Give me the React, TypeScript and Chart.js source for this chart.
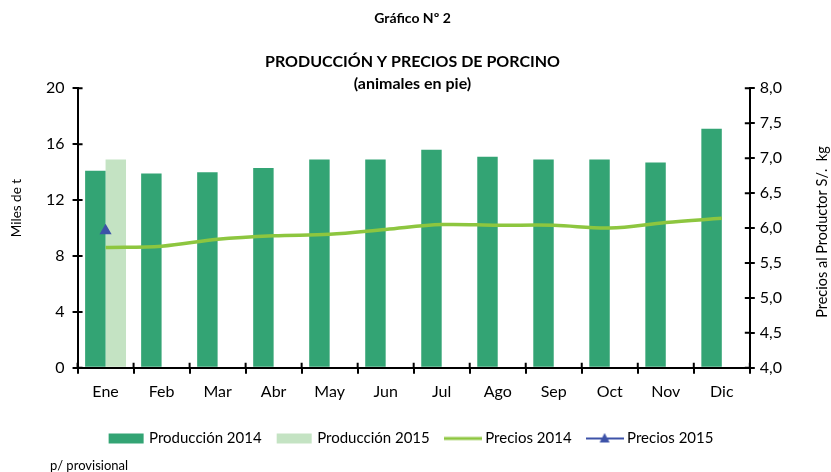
import React, { useEffect, useRef } from 'react';
import { Chart, registerables } from 'chart.js';

Chart.register(...registerables);

const months = ['Ene', 'Feb', 'Mar', 'Abr', 'May', 'Jun', 'Jul', 'Ago', 'Sep', 'Oct', 'Nov', 'Dic'];
const produccion2014 = [14.1, 13.9, 14.0, 14.3, 14.9, 14.9, 15.6, 15.1, 14.9, 14.9, 14.7, 17.1];
const produccion2015 = [14.9, null, null, null, null, null, null, null, null, null, null, null];
const precios2014 = [5.72, 5.74, 5.84, 5.89, 5.91, 5.98, 6.05, 6.04, 6.04, 6.0, 6.08, 6.14];
const precios2015 = [5.96, null, null, null, null, null, null, null, null, null, null, null];
const leftTicks = [0, 4, 8, 12, 16, 20];
const rightTicks = [4.0, 4.5, 5.0, 5.5, 6.0, 6.5, 7.0, 7.5, 8.0];
const legendLabels = ['Producción 2014', 'Producción 2015', 'Precios 2014', 'Precios 2015'];
const leftTitle = 'Miles de t';
const rightTitle = 'Precios al Productor S/.  kg';

const C2014 = '#33a474';
const C2015 = '#c4e3c3';
const CLINE = '#8dc63f';
const CBLUE = '#3d52a8';
const FONT = 'Lato, "Open Sans", sans-serif';

function makeIcon(kind: string): HTMLCanvasElement {
  const c = document.createElement('canvas');
  c.width = 38;
  c.height = 12;
  const ctx = c.getContext('2d')!;
  if (kind === 'bar14' || kind === 'bar15') {
    ctx.fillStyle = kind === 'bar14' ? C2014 : C2015;
    ctx.fillRect(1, 1, 35, 10);
  } else if (kind === 'line') {
    ctx.fillStyle = CLINE;
    ctx.fillRect(0, 4.5, 38, 3);
  } else {
    ctx.fillStyle = CBLUE;
    ctx.fillRect(0, 5, 38, 2);
    ctx.beginPath();
    ctx.moveTo(19, 0.5);
    ctx.lineTo(24, 10);
    ctx.lineTo(14, 10);
    ctx.closePath();
    ctx.fill();
  }
  return c;
}

const crossTicks = {
  id: 'crossTicks',
  afterDraw(chart: any) {
    const ctx = chart.ctx;
    const { x, y, y1 } = chart.scales;
    ctx.save();
    ctx.strokeStyle = '#000';
    ctx.lineWidth = 2;
    ctx.beginPath();
    y.ticks.forEach((_t: any, i: number) => {
      const py = y.getPixelForTick(i);
      ctx.moveTo(y.right, py);
      ctx.lineTo(y.right + 5, py);
    });
    y1.ticks.forEach((_t: any, i: number) => {
      const py = y1.getPixelForTick(i);
      ctx.moveTo(y1.left - 5, py);
      ctx.lineTo(y1.left, py);
    });
    for (let i = 0; i <= x.ticks.length; i++) {
      const px = x.getPixelForValue(i - 0.5);
      ctx.moveTo(px, x.top - 5);
      ctx.lineTo(px, x.top);
    }
    ctx.stroke();
    // axis titles, both reading bottom-to-top
    const ca = chart.chartArea;
    const mid = (ca.top + ca.bottom) / 2;
    ctx.fillStyle = '#000';
    ctx.textAlign = 'center';
    ctx.textBaseline = 'middle';
    ctx.save();
    ctx.font = '13.5px ' + FONT;
    ctx.translate(17, mid - 20);
    ctx.rotate(-Math.PI / 2);
    ctx.fillText(leftTitle, 0, 0);
    ctx.restore();
    ctx.save();
    ctx.font = '14.5px ' + FONT;
    ctx.translate(chart.width - 9, mid + 4);
    ctx.rotate(-Math.PI / 2);
    ctx.fillText(rightTitle, 0, 0);
    ctx.restore();
    ctx.restore();
  },
};

export default function App() {
  const ref = useRef<HTMLCanvasElement>(null);
  useEffect(() => {
    const icons = [makeIcon('bar14'), makeIcon('bar15'), makeIcon('line'), makeIcon('tri')];
    const chart = new Chart(ref.current!, {
      type: 'bar',
      data: {
        labels: months,
        datasets: [
          { type: 'bar', label: legendLabels[0], data: produccion2014, backgroundColor: C2014, yAxisID: 'y', order: 2, barPercentage: 1, categoryPercentage: 0.73 },
          { type: 'bar', label: legendLabels[1], data: produccion2015 as any, backgroundColor: C2015, yAxisID: 'y', order: 2, barPercentage: 1, categoryPercentage: 0.73 },
          { type: 'line', label: legendLabels[2], data: precios2014, borderColor: CLINE, borderWidth: 3.5, pointRadius: 0, tension: 0.35, yAxisID: 'y1', order: 1 },
          { type: 'line', label: legendLabels[3], data: precios2015 as any, borderColor: CBLUE, backgroundColor: CBLUE, borderWidth: 2, pointStyle: 'triangle', pointRadius: 5, yAxisID: 'y1', order: 0 },
        ] as any,
      },
      options: {
        responsive: false,
        animation: false,
        layout: { padding: { left: 38, right: 44, top: 0, bottom: 16 } },
        plugins: {
          tooltip: { enabled: false },
          title: {
            display: true,
            text: 'Gráfico Nº 2',
            color: '#000',
            font: { family: FONT, size: 14, weight: 'bold' },
            padding: { top: 10, bottom: 24 },
          },
          subtitle: {
            display: true,
            text: ['PRODUCCIÓN Y PRECIOS DE PORCINO', '(animales en pie)'],
            color: '#000',
            font: { family: FONT, size: 16, weight: 'bold', lineHeight: 1.36 },
            padding: { top: 0, bottom: -6 },
          },
          legend: {
            position: 'bottom',
            labels: {
              color: '#000',
              font: { family: FONT, size: 15 },
              usePointStyle: true,
              pointStyleWidth: 30,
              boxHeight: 12,
              padding: 18,
              generateLabels: () =>
                legendLabels.map((t, i) => ({
                  text: t,
                  pointStyle: icons[i],
                  fillStyle: 'transparent',
                  strokeStyle: 'transparent',
                  lineWidth: 0,
                  hidden: false,
                  datasetIndex: i,
                  fontColor: '#000',
                })) as any,
            },
          },
        },
        scales: {
          x: {
            grid: { display: true, drawOnChartArea: false, offset: true, tickLength: 6, color: '#000', lineWidth: 2 },
            border: { color: '#000', width: 2 },
            ticks: { color: '#000', font: { family: FONT, size: 16 }, padding: 8 },
            afterFit: (s: any) => { s.height += 4; },
          },
          y: {
            position: 'left',
            min: 0,
            max: 20,
            afterBuildTicks: (s: any) => { s.ticks = leftTicks.map((v) => ({ value: v })); },
            grid: { drawOnChartArea: false, tickLength: 5, color: '#000', lineWidth: 2 },
            border: { color: '#000', width: 2 },
            ticks: { color: '#000', font: { family: FONT, size: 16 }, padding: 8 },
          },
          y1: {
            position: 'right',
            min: 4,
            max: 8,
            afterBuildTicks: (s: any) => { s.ticks = rightTicks.map((v) => ({ value: v })); },
            grid: { drawOnChartArea: false, tickLength: 5, color: '#000', lineWidth: 2 },
            border: { color: '#000', width: 2 },
            ticks: { color: '#000', font: { family: FONT, size: 16 }, padding: 5, callback: (v: any) => Number(v).toFixed(1).replace('.', ',') },
          },
        },
      } as any,
      plugins: [crossTicks],
    });
    return () => chart.destroy();
  }, []);
  return (
    <div style={{ position: 'absolute', left: 0, top: 0, width: 831, height: 472, background: '#fff' }}>
      <canvas ref={ref} width={831} height={472} style={{ display: 'block' }} />
      <div style={{ position: 'absolute', left: 50, top: 457, fontFamily: FONT, fontSize: 13, color: '#000' }}>p/ provisional</div>
    </div>
  );
}
